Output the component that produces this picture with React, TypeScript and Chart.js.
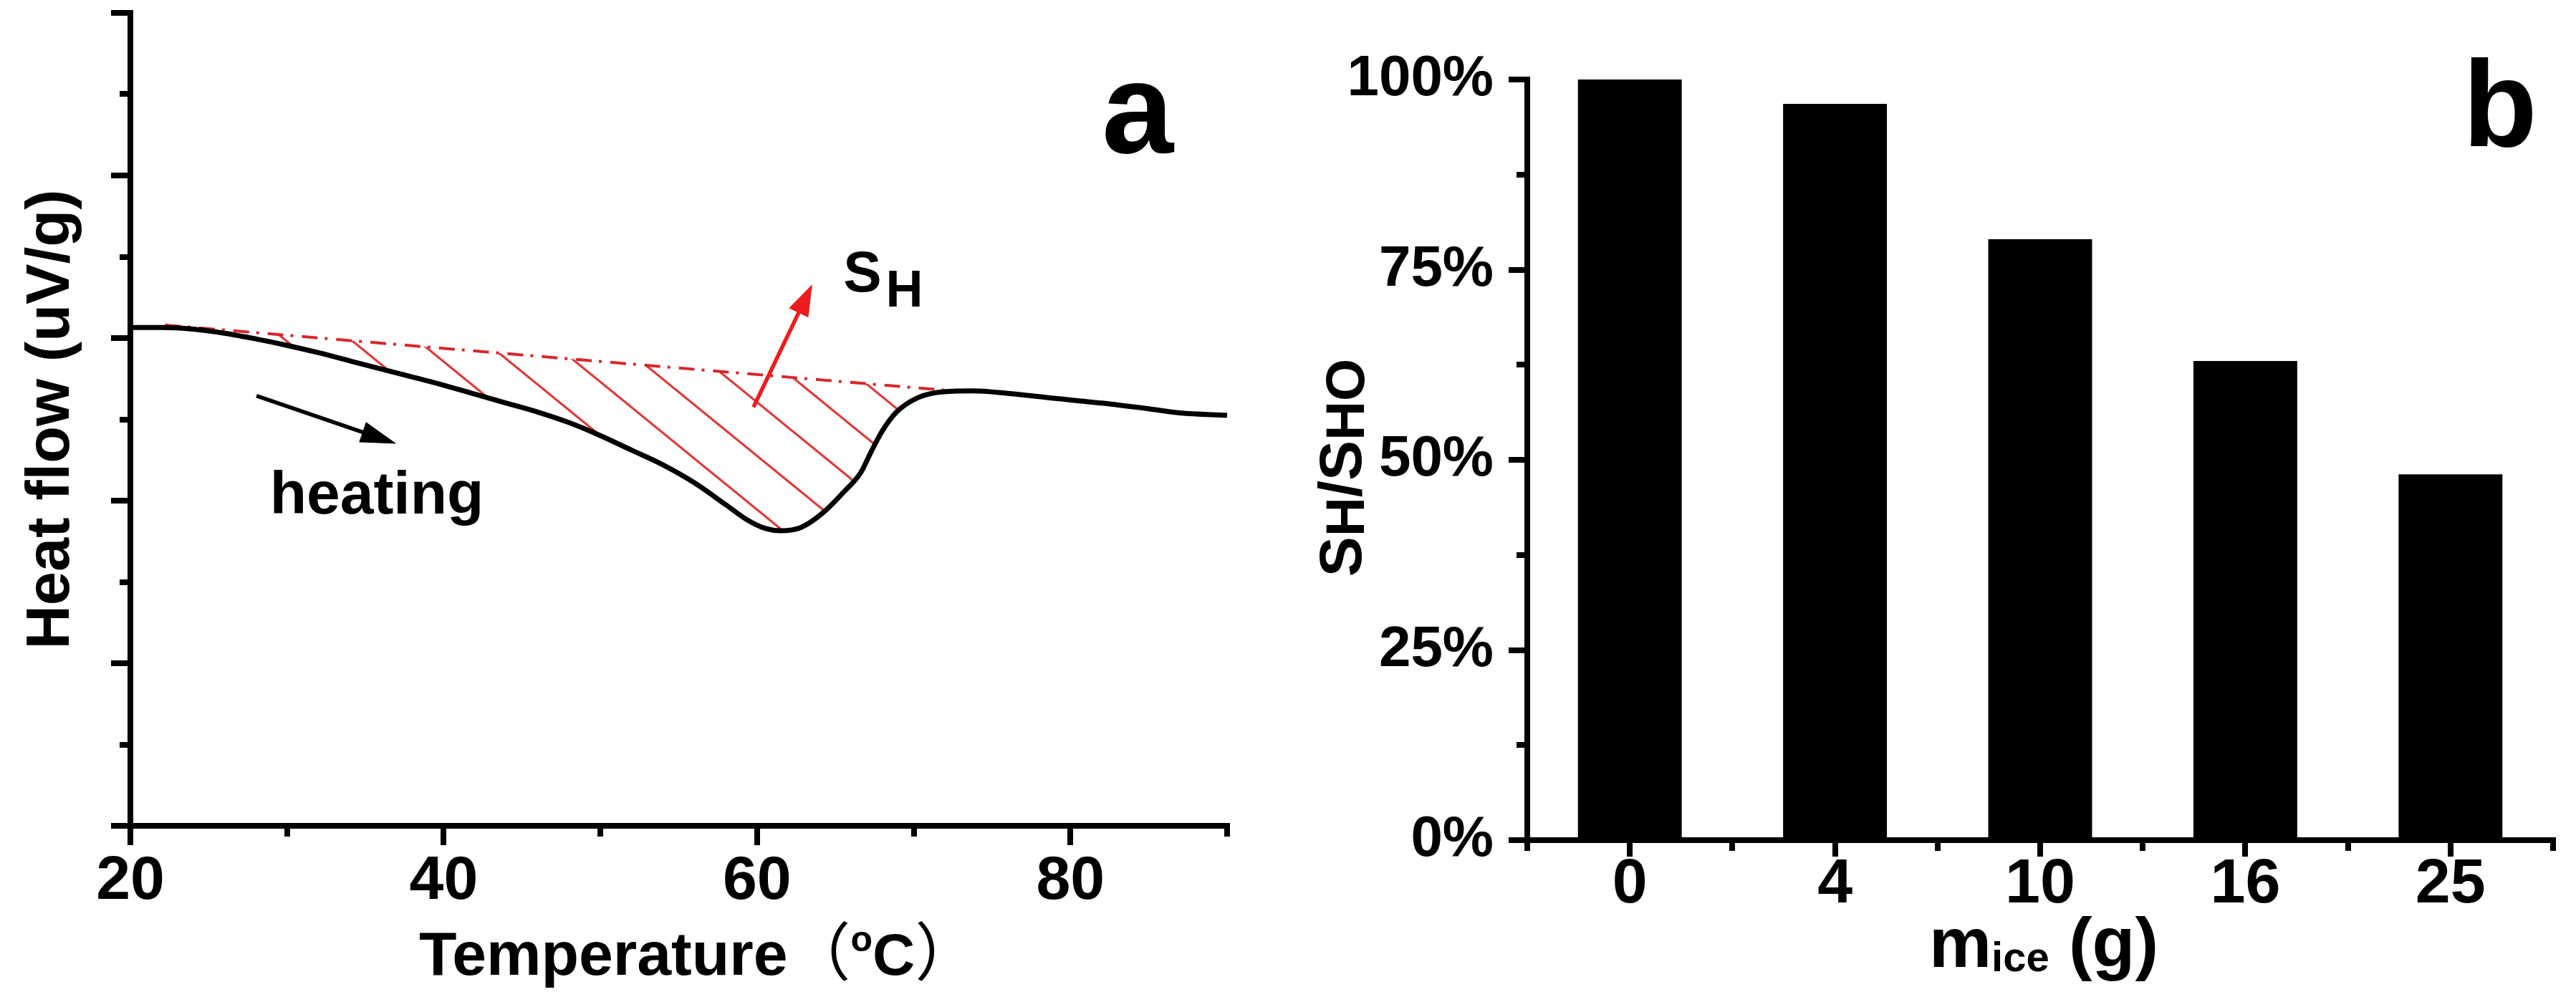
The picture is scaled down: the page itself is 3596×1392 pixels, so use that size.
import React, { useEffect, useRef } from 'react';
import { Chart, registerables } from 'chart.js';

Chart.register(...registerables);

// ---------- data: panel a (DSC curve) ----------
const tempC = [20, 22, 24, 26, 28, 30, 32, 34, 36, 38, 40, 42, 44, 46, 48, 50, 52, 54, 56, 58, 59.4, 60.5, 61.5, 62.8, 64.2, 65.5, 66.6, 67.3, 68, 68.9, 70.3, 71.9, 73.8, 76, 78.4, 82, 85, 87, 90];
const heatFlow = [6.13, 6.13, 6.11, 6.06, 5.99, 5.91, 5.82, 5.72, 5.62, 5.52, 5.42, 5.31, 5.2, 5.09, 4.96, 4.8, 4.62, 4.44, 4.22, 3.95, 3.76, 3.66, 3.63, 3.67, 3.85, 4.1, 4.34, 4.61, 4.86, 5.09, 5.27, 5.34, 5.35, 5.32, 5.27, 5.2, 5.13, 5.08, 5.05];
const baseTemp = [22.2, 72.5];
const baseFlow = [6.16, 5.35];

const tempMajor = [20, 40, 60, 80];
const tempMinor = [30, 50, 70, 90];
const flowMajor = [0, 2, 4, 6, 8, 10];
const flowMinor = [1, 3, 5, 7, 9];

// annotations of panel a (data units)
const heatingArrow = { from: [28.05, 5.29], to: [36.98, 4.7] };
const areaArrow = { from: [59.77, 5.15], to: [63.52, 6.66] };
const heatingLabel = { text: 'heating', at: [28.9, 3.84] };
const areaLabel = { main: 'S', sub: 'H', at: [65.5, 6.57] };
const panelALabel = { text: 'a', at: [82.0, 8.28] };

// ---------- data: panel b (bars) ----------
const iceMass = ['0', '4', '10', '16', '25'];
const ratioPct = [100, 96.8, 79.0, 63.0, 48.1];
const pctMajor = [0, 25, 50, 75, 100];
const pctMinor = [12.5, 37.5, 62.5, 87.5];
const catBounds = [-0.5, 0.5, 1.5, 2.5, 3.5, 4.5];

const FONT = '"Liberation Sans", Arial, Helvetica, sans-serif';
const CJK = '"Noto Sans CJK SC", "Noto Sans CJK JP", sans-serif';

function makeHatch(): CanvasPattern | string {
  const W = 92;
  const H = Math.round(W * 0.82);
  const c = document.createElement('canvas');
  c.width = W;
  c.height = H;
  const g = c.getContext('2d');
  if (!g) return 'rgba(220,40,40,0.3)';
  g.strokeStyle = '#e03a3a';
  g.lineWidth = 3.2;
  g.beginPath();
  for (const dx of [-W, 0, W]) {
    g.moveTo(dx - W * 0.1, -H * 0.1);
    g.lineTo(dx + W * 1.1, H * 1.1);
  }
  g.stroke();
  return g.createPattern(c, 'repeat') || 'rgba(220,40,40,0.3)';
}

function drawMinor(ctx: CanvasRenderingContext2D, scale: any, values: number[], len: number) {
  ctx.save();
  ctx.strokeStyle = '#000';
  ctx.lineWidth = 8;
  ctx.beginPath();
  for (const v of values) {
    const p = Math.round(scale.getPixelForValue(v));
    if (scale.isHorizontal()) {
      ctx.moveTo(p, scale.top);
      ctx.lineTo(p, scale.top + len);
    } else {
      ctx.moveTo(scale.right, p);
      ctx.lineTo(scale.right - len, p);
    }
  }
  ctx.stroke();
  ctx.restore();
}

function drawArrow(ctx: CanvasRenderingContext2D, x1: number, y1: number, x2: number, y2: number, color: string, lw: number, headLen: number, headHalf: number) {
  const a = Math.atan2(y2 - y1, x2 - x1);
  const c = Math.cos(a);
  const s = Math.sin(a);
  const bx = x2 - headLen * c;
  const by = y2 - headLen * s;
  ctx.save();
  ctx.strokeStyle = color;
  ctx.fillStyle = color;
  ctx.lineWidth = lw;
  ctx.beginPath();
  ctx.moveTo(x1, y1);
  ctx.lineTo(bx + 4 * c, by + 4 * s);
  ctx.stroke();
  ctx.beginPath();
  ctx.moveTo(x2, y2);
  ctx.lineTo(bx + headHalf * s, by - headHalf * c);
  ctx.lineTo(bx - headHalf * s, by + headHalf * c);
  ctx.closePath();
  ctx.fill();
  ctx.restore();
}

type Run = { t: string; f: string; dy?: number; gap?: number };

function runsWidth(ctx: CanvasRenderingContext2D, runs: Run[]) {
  let w = 0;
  for (const r of runs) {
    ctx.font = r.f;
    w += ctx.measureText(r.t).width + (r.gap || 0);
  }
  return w;
}

function drawRuns(ctx: CanvasRenderingContext2D, runs: Run[], x: number, y: number) {
  let cx = x;
  for (const r of runs) {
    ctx.font = r.f;
    cx += r.gap || 0;
    ctx.fillText(r.t, cx, y + (r.dy || 0));
    cx += ctx.measureText(r.t).width;
  }
}

const leftDecor = {
  id: 'leftDecor',
  afterDraw(chart: any) {
    const { ctx, chartArea, scales } = chart;
    const xs = scales.x;
    const ys = scales.y;
    const px = (v: number) => xs.getPixelForValue(v);
    const py = (v: number) => ys.getPixelForValue(v);

    drawMinor(ctx, xs, tempMinor, 15);
    drawMinor(ctx, ys, flowMinor, 15);

    drawArrow(ctx, px(heatingArrow.from[0]), py(heatingArrow.from[1]), px(heatingArrow.to[0]), py(heatingArrow.to[1]), '#000', 5.5, 50, 15);
    drawArrow(ctx, px(areaArrow.from[0]), py(areaArrow.from[1]), px(areaArrow.to[0]), py(areaArrow.to[1]), '#ee1c1c', 5.5, 44, 15);

    ctx.save();
    ctx.fillStyle = '#000';
    ctx.textBaseline = 'alphabetic';
    ctx.textAlign = 'left';

    ctx.font = `bold 84px ${FONT}`;
    ctx.fillText(heatingLabel.text, px(heatingLabel.at[0]), py(heatingLabel.at[1]));

    drawRuns(ctx, [
      { t: areaLabel.main, f: `bold 80px ${FONT}` },
      { t: areaLabel.sub, f: `bold 72px ${FONT}`, dy: 21, gap: 6 },
    ], px(areaLabel.at[0]), py(areaLabel.at[1]));

    ctx.font = `bold 180px ${FONT}`;
    ctx.fillText(panelALabel.text, px(panelALabel.at[0]), py(panelALabel.at[1]));

    // x title
    drawRuns(ctx, [
      { t: 'Temperature', f: `bold 86px ${FONT}` },
      { t: '（', f: `400 88px ${CJK}` },
      { t: 'o', f: `bold 50px ${FONT}`, dy: -33 },
      { t: 'C', f: `bold 82px ${FONT}` },
      { t: '）', f: `400 88px ${CJK}` },
    ], chartArea.left + 403, chartArea.bottom + 208);

    // y title
    ctx.translate(chartArea.left - 86, (chartArea.top + chartArea.bottom) / 2);
    ctx.rotate(-Math.PI / 2);
    ctx.textAlign = 'center';
    ctx.font = `bold 85px ${FONT}`;
    ctx.fillText('Heat flow (uV/g)', 0, 0);
    ctx.restore();
  },
};

const rightDecor = {
  id: 'rightDecor',
  afterDraw(chart: any) {
    const { ctx, chartArea, scales } = chart;
    drawMinor(ctx, scales.x, catBounds, 15);
    drawMinor(ctx, scales.y, pctMinor, 15);

    ctx.save();
    ctx.fillStyle = '#000';
    ctx.textBaseline = 'alphabetic';
    ctx.textAlign = 'left';

    ctx.font = `bold 170px ${FONT}`;
    ctx.fillText('b', chartArea.right - 126, chartArea.top + 93);

    const xRuns: Run[] = [
      { t: 'm', f: `bold 98px ${FONT}` },
      { t: 'ice', f: `bold 58px ${FONT}`, dy: 6 },
      { t: ' (g)', f: `bold 98px ${FONT}` },
    ];
    const xw = runsWidth(ctx, xRuns);
    drawRuns(ctx, xRuns, (chartArea.left + chartArea.right) / 2 + 5 - xw / 2, chartArea.bottom + 177);

    const yRuns: Run[] = [
      { t: 'S', f: `bold 84px ${FONT}` },
      { t: 'H', f: `bold 76px ${FONT}`, dy: 4 },
      { t: '/', f: `bold 84px ${FONT}` },
      { t: 'S', f: `bold 84px ${FONT}` },
      { t: 'HO', f: `bold 76px ${FONT}`, dy: 4 },
    ];
    const yw = runsWidth(ctx, yRuns);
    ctx.translate(chartArea.left - 232, (chartArea.top + chartArea.bottom) / 2 + 11);
    ctx.rotate(-Math.PI / 2);
    drawRuns(ctx, yRuns, -yw / 2, 0);
    ctx.restore();
  },
};

const axisBase = {
  border: { display: true, color: '#000', width: 8 },
};

export default function App() {
  const leftRef = useRef<HTMLCanvasElement>(null);
  const rightRef = useRef<HTMLCanvasElement>(null);

  useEffect(() => {
    const hatch = makeHatch();
    const curve = tempC.map((t, i) => ({ x: t, y: heatFlow[i] }));
    const base = baseTemp.map((t, i) => ({ x: t, y: baseFlow[i] }));

    const left = new Chart(leftRef.current as HTMLCanvasElement, {
      type: 'line',
      data: {
        datasets: [
          {
            data: curve,
            borderColor: '#000',
            borderWidth: 7,
            pointRadius: 0,
            cubicInterpolationMode: 'monotone',
            fill: false,
          },
          {
            data: base,
            borderColor: '#d9262b',
            borderWidth: 4,
            borderDash: [22, 10, 4, 12],
            pointRadius: 0,
            backgroundColor: hatch as any,
            fill: { target: 0 } as any,
          },
        ],
      },
      options: {
        responsive: false,
        animation: false,
        devicePixelRatio: 1,
        events: [],
        layout: { padding: { left: 0, top: 18, right: 87, bottom: 0 } },
        plugins: { legend: { display: false }, tooltip: { enabled: false }, title: { display: false } },
        scales: {
          x: {
            type: 'linear',
            min: 20,
            max: 90,
            afterBuildTicks: (s: any) => { s.ticks = tempMajor.map((v) => ({ value: v })); },
            afterFit: (s: any) => { s.height = 239; },
            ...axisBase,
            grid: { drawOnChartArea: false, drawTicks: true, tickLength: 27, tickWidth: 8, tickColor: '#000', lineWidth: 8 },
            ticks: {
              color: '#000',
              padding: 0,
              autoSkip: false,
              maxRotation: 0,
              minRotation: 0,
              font: { family: FONT, size: 86, weight: 'bold', lineHeight: 1.2 },
              callback: (v: any) => String(v),
            },
          },
          y: {
            type: 'linear',
            min: 0,
            max: 10,
            afterBuildTicks: (s: any) => { s.ticks = flowMajor.map((v) => ({ value: v })); },
            afterFit: (s: any) => { s.width = 182; },
            ...axisBase,
            grid: { drawOnChartArea: false, drawTicks: true, tickLength: 27, tickWidth: 8, tickColor: '#000', lineWidth: 8 },
            ticks: { display: false },
          },
        },
      } as any,
      plugins: [leftDecor],
    });

    const right = new Chart(rightRef.current as HTMLCanvasElement, {
      type: 'bar',
      data: {
        labels: iceMass,
        datasets: [
          {
            data: ratioPct,
            backgroundColor: '#000',
            borderWidth: 0,
            barPercentage: 0.506,
            categoryPercentage: 1,
          },
        ],
      },
      options: {
        responsive: false,
        animation: false,
        devicePixelRatio: 1,
        events: [],
        layout: { padding: { left: 0, top: 111, right: 32, bottom: 0 } },
        plugins: { legend: { display: false }, tooltip: { enabled: false }, title: { display: false } },
        scales: {
          x: {
            type: 'category',
            offset: true,
            afterFit: (s: any) => { s.height = 219; },
            ...axisBase,
            grid: { offset: false, drawOnChartArea: false, drawTicks: true, tickLength: 23, tickWidth: 8, tickColor: '#000', lineWidth: 8 },
            ticks: {
              color: '#000',
              padding: 0,
              autoSkip: false,
              maxRotation: 0,
              minRotation: 0,
              font: { family: FONT, size: 88, weight: 'bold', lineHeight: 0.9 },
            },
          },
          y: {
            type: 'linear',
            min: 0,
            max: 100,
            afterBuildTicks: (s: any) => { s.ticks = pctMajor.map((v) => ({ value: v })); },
            afterFit: (s: any) => { s.width = 332; },
            ...axisBase,
            grid: { drawOnChartArea: false, drawTicks: true, tickLength: 26, tickWidth: 8, tickColor: '#000', lineWidth: 8 },
            ticks: {
              color: '#000',
              padding: 21,
              autoSkip: false,
              font: { family: FONT, size: 80, weight: 'bold', lineHeight: 1.2 },
              callback: (v: any) => `${v}%`,
            },
          },
        },
      } as any,
      plugins: [rightDecor],
    });

    return () => {
      left.destroy();
      right.destroy();
    };
  }, []);

  return (
    <div style={{ position: 'absolute', left: 0, top: 0, width: 3596, height: 1392, background: '#fff', overflow: 'hidden' }}>
      <canvas ref={leftRef} width={1800} height={1392} style={{ position: 'absolute', left: 0, top: 0, width: 1800, height: 1392 }} />
      <canvas ref={rightRef} width={1796} height={1392} style={{ position: 'absolute', left: 1800, top: 0, width: 1796, height: 1392 }} />
    </div>
  );
}
